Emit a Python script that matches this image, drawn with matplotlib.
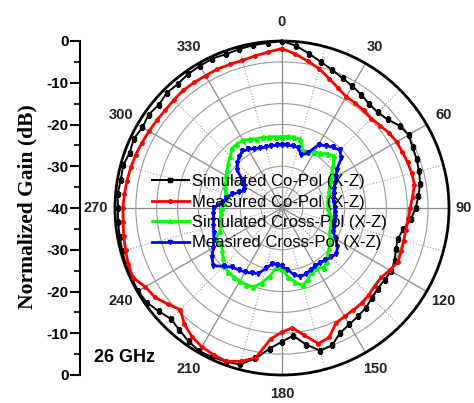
import numpy as np
import matplotlib
matplotlib.use('Agg')
import matplotlib.pyplot as plt

plt.rcParams['font.family'] = ['Liberation Sans', 'DejaVu Sans']

# angles in degrees, clockwise from top, 5 deg steps
angles = list(range(0, 360, 5))

sim_co = [0.0, -1.0, -2.5, -3.8, -4.8, -5.7, -6.3, -6.9, -7.5, -7.6, -7.0, -5.6,
          -5.0, -5.5, -5.7, -6.0, -6.4, -7.2, -8.0, -9.0, -10.5, -11.3, -11.0, -10.2,
          -9.8, -10.0, -10.0, -9.5, -8.8, -8.3, -7.8, -7.0, -5.0, -4.6, -6.8, -9.3,
          -8.0, -6.2, -3.4, -1.2, -0.8, -0.6, -0.4, -1.0, -1.8, -2.4, -1.5, -0.5,
          -0.2, -0.3, -0.2, -0.4, -0.5, -0.6, -0.7, -0.5, -0.8, -0.6, -1.2, -0.8,
          -1.4, -1.0, -1.5, -1.0, -1.2, -0.8, -0.7, -0.5, -0.8, -0.6, -0.4, -0.3]

meas_co = [-1.8, -3.0, -4.3, -5.5, -7.0, -8.3, -9.2, -9.4, -9.5, -9.7, -9.3, -8.7,
           -8.3, -8.2, -8.0, -7.8, -7.8, -8.6, -9.3, -9.6, -9.9, -9.8, -9.6, -9.4,
           -10.2, -11.0, -11.0, -10.6, -10.3, -10.2, -10.0, -9.5, -7.0, -6.4, -9.0, -11.2,
           -10.3, -8.5, -3.5, -2.0, -0.9, -1.2, -1.6, -2.4, -3.6, -5.6, -4.2, -2.8,
           -2.2, -0.6, -0.8, -1.2, -1.5, -1.8, -1.9, -2.1, -2.3, -2.5, -2.7, -3.0,
           -3.2, -3.4, -3.5, -3.4, -3.2, -3.3, -3.4, -3.3, -3.4, -3.4, -3.0, -2.5]

sim_cross = [-22.9, -22.8, -22.8, -23.0, -25.5, -25.2, -24.5, -24.0, -23.0, -22.4, -24.0, -25.5,
             -26.5, -27.4, -28.0, -28.5, -28.8, -29.0, -28.9, -28.6, -28.2, -27.8, -27.5, -27.3,
             -26.8, -26.0, -25.2, -24.5, -23.2, -22.6, -23.5, -23.2, -21.8, -20.8, -22.0, -23.5,
             -25.5, -25.8, -23.5, -21.5, -19.8, -19.7, -19.8, -19.8, -19.9, -20.5, -21.5, -22.5,
             -23.0, -22.5, -24.2, -24.8, -25.0, -25.4, -25.6, -26.0, -26.5, -26.0, -25.5, -25.2,
             -24.5, -24.0, -23.2, -22.5, -21.3, -21.2, -21.3, -21.8, -22.3, -22.5, -22.7, -22.9]

meas_cross = [-24.9, -24.9, -24.9, -25.0, -26.5, -25.5, -22.5, -21.8, -21.0, -20.4, -21.5, -24.0,
              -25.0, -26.0, -26.8, -27.2, -27.5, -27.5, -27.4, -27.3, -27.2, -27.0, -26.8, -26.4,
              -25.2, -23.8, -23.0, -23.3, -23.8, -24.0, -24.0, -23.7, -23.2, -23.0, -23.8, -25.2,
              -26.0, -26.4, -26.4, -25.0, -23.3, -22.8, -22.3, -21.9, -21.5, -20.2, -18.5, -19.5,
              -21.0, -22.0, -22.6, -23.0, -23.3, -23.5, -23.6, -25.5, -26.5, -27.5, -29.0, -30.0,
              -29.5, -28.5, -26.0, -24.8, -24.0, -23.4, -23.8, -24.3, -24.7, -24.9, -24.9, -24.9]

series = [
    ('Simulated Co-Pol (X-Z)', sim_co, 'black', 's', 1.4, 3.5),
    ('Measured Co-Pol (X-Z)', meas_co, '#ff0000', 'o', 2.0, 2.5),
    ('Simulated Cross-Pol (X-Z)', sim_cross, '#00ff00', '^', 2.0, 3.0),
    ('Measired Cross-Pol (X-Z)', meas_cross, '#0000ff', 'v', 2.0, 3.0),
]

angle_labels = ['0', '30', '60', '90', '120', '150', '180', '210', '240', '270', '300', '330']
gain_ticks = [0, 10, 20, 30, 40, 50, 60, 70, 80]
gain_labels = ['0', '-10', '-20', '-30', '-40', '-30', '-20', '-10', '0']

W, H = 474, 403
fig = plt.figure(figsize=(W / 100, H / 100), dpi=100)

# polar plot, centre (282, 208) px, radius 167 px
cx, cy, R = 282, 208, 167
rect = [(cx - R) / W, (H - cy - R) / H, 2 * R / W, 2 * R / H]
ax = fig.add_axes(rect, projection='polar')
ax.set_theta_zero_location('N')
ax.set_theta_direction(-1)
ax.set_rlim(-40, 0)
ax.set_yticks(np.arange(-35, 0, 5))
ax.set_yticklabels([])
ax.set_xticks(np.deg2rad(np.arange(0, 360, 30)))
ax.set_xticks(np.deg2rad(np.arange(15, 360, 30)), minor=True)
ax.set_xticklabels([])
ax.xaxis.grid(True, which='major', color='#8a8a8a', lw=0.9, ls='-')
ax.xaxis.grid(True, which='minor', color='#9a9a9a', lw=0.8, ls=':')
ax.yaxis.grid(True, color='#9a9a9a', lw=0.8, ls='-')
ax.tick_params(axis='x', which='major', direction='in', length=8, width=1.5, color='black')
ax.tick_params(axis='x', which='minor', direction='in', length=4, width=1.2, color='black')
ax.spines['polar'].set_linewidth(2)

for name, vals, col, mk, lw, ms in series:
    th = np.deg2rad(angles + [angles[0] + 360])
    r = vals + [vals[0]]
    ax.plot(th, r, color=col, lw=lw, marker=mk, ms=ms, label=name, zorder=3)

# angle labels outside the rim; 90 sits a bit closer so it stays on the canvas
for a, lab in zip(range(0, 360, 30), angle_labels):
    rr = 3.6 if a == 90 else 4.6
    ax.text(np.deg2rad(a), rr, lab, ha='center', va='center', fontsize=10.5,
            fontweight='bold', color='#222222', clip_on=False)

ax.legend(loc='upper left', bbox_to_anchor=(152 / W, (H - 174) / H),
          bbox_transform=fig.transFigure, frameon=False, fontsize=12,
          handlelength=2.2, handletextpad=0.2, labelspacing=0.33,
          borderpad=0, borderaxespad=0)

# linear gain scale on the left
ax_g = fig.add_axes([80 / W, rect[1], 0.001, rect[3]])
ax_g.patch.set_visible(False)
for s in ['right', 'top', 'bottom']:
    ax_g.spines[s].set_visible(False)
ax_g.spines['left'].set_linewidth(1.5)
ax_g.set_xticks([])
ax_g.set_ylim(0, 80)
ax_g.set_yticks(gain_ticks)
ax_g.set_yticklabels(gain_labels, fontsize=11, fontweight='bold')
ax_g.set_yticks(np.arange(5, 80, 10), minor=True)
ax_g.tick_params(axis='y', which='major', direction='out', length=7, width=1.5, pad=1)
ax_g.tick_params(axis='y', which='minor', direction='out', length=4, width=1.2)

fig.text(27 / W, (H - 207) / H, 'Normalized Gain (dB)', rotation=90, ha='center', va='center',
         fontsize=15.5, fontweight='bold', family='Liberation Serif')
fig.text(125 / W, (H - 357) / H, '26 GHz', ha='center', va='center',
         fontsize=13, fontweight='bold')

fig.savefig('out.png', dpi=100)
